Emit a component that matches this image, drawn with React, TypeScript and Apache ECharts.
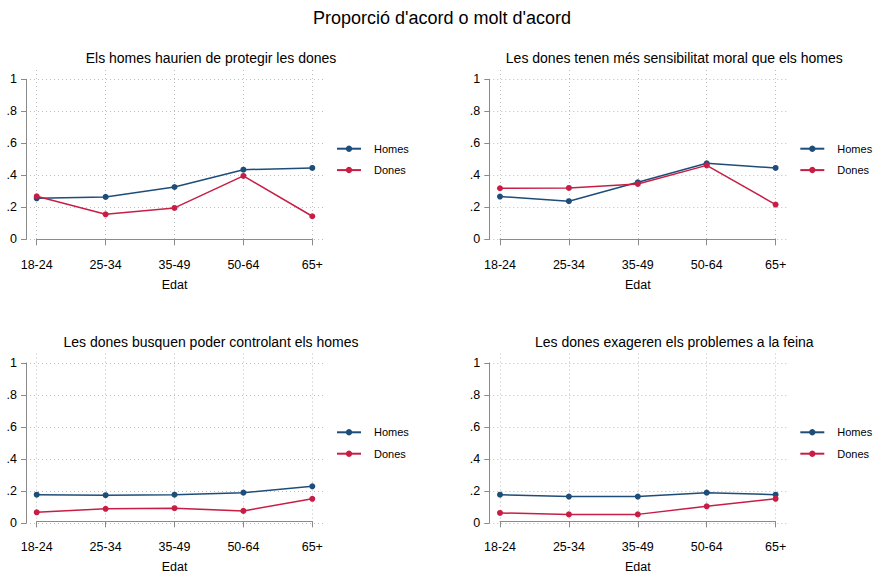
import React, { useEffect, useRef } from "react";
import * as echarts from "echarts";

const mainTitle = "Proporció d'acord o molt d'acord";
const categories = ["18-24", "25-34", "35-49", "50-64", "65+"];
const panelTitles = [
  "Els homes haurien de protegir les dones",
  "Les dones tenen més sensibilitat moral que els homes",
  "Les dones busquen poder controlant els homes",
  "Les dones exageren els problemes a la feina",
];
const homes1 = [0.256, 0.265, 0.327, 0.435, 0.446];
const dones1 = [0.269, 0.156, 0.196, 0.396, 0.144];
const homes2 = [0.267, 0.238, 0.356, 0.475, 0.446];
const dones2 = [0.319, 0.321, 0.346, 0.462, 0.217];
const homes3 = [0.168, 0.165, 0.168, 0.181, 0.221];
const dones3 = [0.057, 0.079, 0.083, 0.066, 0.142];
const homes4 = [0.168, 0.156, 0.156, 0.181, 0.168];
const dones4 = [0.053, 0.044, 0.044, 0.095, 0.142];
const yTickLabels: Record<string, string> = { "0": "0", "0.2": ".2", "0.4": ".4", "0.6": ".6", "0.8": ".8", "1": "1" };
const seriesNames = ["Homes", "Dones"];
const xAxisName = "Edat";

const homesData = [homes1, homes2, homes3, homes4];
const donesData = [dones1, dones2, dones3, dones4];

const FONT = "'Liberation Sans', Arial, Helvetica, sans-serif";
const C_HOMES = "#1e4d7a";
const C_DONES = "#c81e45";
const AXIS_GRAY = "#8a8a8a";
const GRID_GRAY = "#bdbdbd";

export default function App() {
  const ref = useRef<HTMLDivElement>(null);
  useEffect(() => {
    if (!ref.current) return;
    const chart = echarts.init(ref.current, null, { renderer: "svg" });
    const grids: any[] = [];
    const xAxes: any[] = [];
    const yAxes: any[] = [];
    const series: any[] = [];
    const legends: any[] = [];
    const graphics: any[] = [
      {
        type: "text",
        x: 442,
        y: 18,
        style: { text: mainTitle, font: `18px ${FONT}`, fill: "#000", textAlign: "center", textVerticalAlign: "middle" },
      },
    ];
    for (let p = 0; p < 4; p++) {
      const dx = p % 2 === 1 ? 463.3 : 0;
      const dy = p >= 2 ? 283.6 : 0;
      // grid A: y axis & horizontal grid lines
      grids.push({ left: 26 + dx, top: 79.3 + dy, width: 297, height: 160, containLabel: false });
      // grid B: series & x axis
      grids.push({ left: 36.7 + dx, top: 70 + dy, width: 275.6, height: 175, containLabel: false });
      const gA = 2 * p;
      const gB = 2 * p + 1;
      xAxes.push({ type: "value", gridIndex: gA, show: false, min: 0, max: 1 });
      yAxes.push({
        type: "value",
        gridIndex: gA,
        min: 0,
        max: 1,
        interval: 0.2,
        axisLine: { show: true, lineStyle: { color: AXIS_GRAY, width: 1 } },
        axisTick: { show: true, length: 5, lineStyle: { color: AXIS_GRAY } },
        axisLabel: {
          margin: 9,
          color: "#000",
          fontFamily: FONT,
          fontSize: 12.5,
          formatter: (v: number) => yTickLabels[String(Math.round(v * 10) / 10)] ?? String(v),
        },
        splitLine: { show: true, lineStyle: { color: GRID_GRAY, type: [1, 3], width: 1 } },
      });
      xAxes.push({
        type: "category",
        gridIndex: gB,
        data: categories,
        boundaryGap: false,
        offset: 4,
        axisLine: { show: true, lineStyle: { color: AXIS_GRAY, width: 1 } },
        axisTick: { show: true, length: 6, alignWithLabel: true, lineStyle: { color: AXIS_GRAY } },
        axisLabel: { margin: 9, color: "#000", fontFamily: FONT, fontSize: 12.5, interval: 0 },
        splitLine: { show: true, interval: 0, lineStyle: { color: GRID_GRAY, type: [1, 3], width: 1 } },
        name: xAxisName,
        nameLocation: "middle",
        nameGap: 29,
        nameTextStyle: { color: "#000", fontFamily: FONT, fontSize: 12.5 },
      });
      yAxes.push({ type: "value", gridIndex: gB, show: false, min: -0.0356, max: 1.058, splitLine: { show: false } });
      series.push({
        type: "line",
        name: seriesNames[0],
        xAxisIndex: gB,
        yAxisIndex: gB,
        data: homesData[p],
        symbol: "circle",
        symbolSize: 6,
        color: C_HOMES,
        lineStyle: { color: C_HOMES, width: 1.5 },
        itemStyle: { color: C_HOMES },
      });
      series.push({
        type: "line",
        name: seriesNames[1],
        xAxisIndex: gB,
        yAxisIndex: gB,
        data: donesData[p],
        symbol: "circle",
        symbolSize: 6,
        color: C_DONES,
        lineStyle: { color: C_DONES, width: 1.5 },
        itemStyle: { color: C_DONES },
      });
      legends.push({
        orient: "vertical",
        left: 336 + dx,
        top: 143.2 + dy,
        padding: 0,
        itemWidth: 24,
        itemHeight: 8,
        itemGap: 10.4,
        selectedMode: false,
        data: seriesNames,
        textStyle: { color: "#000", fontFamily: FONT, fontSize: 11, padding: [0, 0, 0, 8] },
      });
      graphics.push({
        type: "text",
        x: 211 + dx,
        y: 58 + dy,
        style: { text: panelTitles[p], font: `14px ${FONT}`, fill: "#000", textAlign: "center", textVerticalAlign: "middle" },
      });
    }
    chart.setOption({
      animation: false,
      backgroundColor: "#fff",
      grid: grids,
      xAxis: xAxes,
      yAxis: yAxes,
      series,
      legend: legends,
      graphic: graphics,
    });
    return () => chart.dispose();
  }, []);
  return (
    <div
      ref={ref}
      style={{ position: "fixed", left: 0, top: 0, width: 873, height: 574, background: "#fff" }}
    />
  );
}
